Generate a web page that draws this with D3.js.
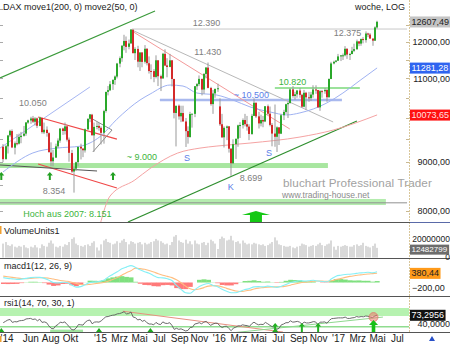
<!DOCTYPE html>
<html><head><meta charset="utf-8">
<script src="https://cdn.jsdelivr.net/npm/d3@7"></script>
<style>
html,body{margin:0;padding:0;background:#fff;}
svg{display:block;font-family:"Liberation Sans",Arial,sans-serif;}
</style></head><body>
<svg id="c" width="450" height="346"></svg>
<script>
// ---------------- DATA ----------------
const firstWeek = "2014-03-10";
// weekly [open, high, low, close]
const ohlc2014 = [
[9330,9390,8990,9056],[9060,9370,9040,9342],[9340,9600,9180,9587],[9590,9720,9550,9695],
[9690,9730,9300,9315],[9310,9450,9160,9409],[9410,9620,9360,9401],[9400,9630,9380,9556],
[9550,9670,9410,9581],[9580,9810,9560,9629],[9630,9900,9580,9893],[9890,9960,9860,9943],
[9940,10030,9860,9987],[9990,10050,9880,9912],[9910,10020,9820,9987],[9990,10010,9760,9815],[9810,10030,9800,10009],
[10000,10010,9630,9666],[9660,9890,9620,9720],[9720,9800,9560,9644],[9640,9660,9200,9210],
[9200,9430,8903,9009],[9010,9260,8900,9092],[9090,9400,9080,9339],[9340,9520,9300,9470],
[9470,9760,9420,9747],[9750,9770,9600,9691],[9690,9890,9610,9799],[9800,9820,9450,9490],[9490,9540,9000,9195],
[9190,9260,8760,8788],[8790,8900,8354,8850],[8850,9000,8800,8987],[8990,9330,8900,9327],
[9330,9400,9050,9291],[9290,9290,9100,9252],[9250,9750,9200,9732],[9730,9990,9720,9980],
[9980,10093,9900,10087],[10080,10100,9580,9594],[9590,9890,9219,9787],[9790,9900,9730,9810],[9810,9880,9700,9765]
];
const ohlc2015 = [
[9765,9800,9380,9648],[9650,10200,9400,10167],[10170,10650,10130,10649],[10650,10800,10560,10694],
[10690,10930,10670,10846],[10850,10970,10700,10963],[10960,11080,10830,11051],[11050,11420,11000,11402],
[11400,11600,11300,11551],[11550,11920,11450,11901],[11900,12220,11770,12040],[12040,12170,11700,11868],[11870,12080,11800,11967],
[11970,12390,11950,12375],[12370,12380,11950,11688],[11690,11860,11500,11811],[11810,11900,11300,11454],
[11450,11720,11200,11709],[11710,11720,11300,11447],[11450,11920,11400,11815],[11815,11830,11350,11413],
[11410,11600,11130,11197],[11200,11380,10980,11196],[11196,11250,10900,11040],[11040,11630,11000,11492],[11490,11500,10800,11058],
[11060,11100,10670,10996],[11000,11700,10990,11673],[11670,11800,11330,11347],[11350,11550,11030,11308],
[11310,11670,11300,11490],[11490,11500,10790,10985],[10985,10990,9990,10124],[10120,10300,9338,10298],[10300,10330,9960,10038],
[10040,10300,9900,10123],[10120,10300,9920,9916],[9916,10000,9325,9688],[9690,9800,9400,9554],
[9550,10150,9540,10096],[10090,10100,9770,10104],[10100,10800,10020,10795],[10795,10880,10700,10850],
[10850,11080,10800,10988],[10988,10990,10560,10708],[10710,11140,10600,11120],[11120,11300,11000,11293],[11290,11430,10740,10752],
[10750,10780,10300,10340],[10340,10700,10100,10608],[10610,10730,10500,10727],[10730,10860,10650,10743]
];
const ohlc2016 = [
[10283,10485,9810,9849],[9850,10100,9530,9545],[9545,9800,9314,9765],[9765,9820,9480,9798],
[9800,9810,9200,9286],[9286,9300,8699,8967],[8967,9500,8950,9388],[9388,9500,9060,9513],[9513,9840,9330,9824],
[9824,9900,9530,9831],[9831,9990,9750,9950],[9950,10100,9800,9851],[9851,10050,9700,9794],
[9794,9850,9480,9622],[9622,10100,9600,10051],[10051,10485,10050,10373],[10373,10380,10000,10039],
[10039,10150,9750,9870],[9870,10080,9800,9952],[9952,10050,9780,9916],[9916,10290,9900,10287],[10287,10330,10070,10103],
[10103,10280,9800,9834],[9834,9880,9340,9631],[9631,10330,9330,9557],[9557,9800,9214,9776],
[9776,9780,9370,9629],[9629,10100,9620,10066],[10066,10200,9950,10147],[10147,10350,10100,10337],
[10337,10400,10000,10367],[10367,10750,10350,10713],[10713,10800,10500,10544],[10544,10650,10450,10587],[10587,10700,10500,10684],
[10684,10750,10500,10573],[10573,10600,10250,10276],[10276,10700,10260,10626],[10626,10650,10200,10511],
[10511,10650,10400,10490],[10490,10650,10420,10580],[10580,10820,10500,10711],[10711,10820,10600,10696],[10696,10700,10250,10259],
[10259,10700,10174,10668],[10668,10700,10500,10665],[10665,10750,10600,10700],[10700,10720,10400,10513],
[10513,11000,10500,10986],[10986,11450,10980,11404],[11404,11480,11380,11449],[11449,11500,11430,11481]
];
const ohlc2017 = [
[11481,11670,11470,11599],[11599,11640,11470,11629],[11629,11680,11500,11630],[11630,11890,11600,11814],[11814,11830,11530,11651],
[11651,11700,11500,11666],[11666,11870,11660,11757],[11757,11960,11720,11804],[11804,12080,11780,12027],
[12027,12030,11890,11963],[11963,12110,11900,12095],[12095,12150,11970,12064],[12064,12320,11990,12257],
[12257,12280,12150,12225],[12225,12270,12100,12109],[12109,12110,11900,12048],[12048,12470,12040,12438],
[12438,12640,12400,12607.49]
];
// weekly volume, millions of units
const vol2014 = [18,20,16,15,17,14,13,15,14,16,13,12,14,13,16,13,12,17,15,14,19,22,18,14,13,15,14,17,16,20,24,26,18,16,15,14,16,17,15,19,21,13,9];
const vol2015 = [17,22,24,20,19,17,18,21,19,22,24,20,17,21,20,18,19,20,17,19,17,18,20,21,24,22,21,19,17,18,16,20,27,29,22,20,19,23,18,21,17,22,18,17,19,20,16,19,23,21,18,11];
const vol2016 = [24,27,25,22,23,28,22,20,21,18,22,19,17,18,17,19,18,17,16,17,15,16,18,20,26,22,17,16,15,14,14,15,13,12,14,15,18,17,16,14,15,16,15,17,19,16,15,17,18,22,14,10];
const vol2017 = [15,14,15,16,15,14,14,16,17,15,16,19,15,14,13,15,18,12.482799];
// weekly RSI(14)
const rsi2014 = [45,50,55,57,46,49,48,52,53,54,59,60,61,57,59,52,58,46,48,45,33,24,22,33,38,47,45,48,38,30,19,18,25,38,37,36,47,53,55,41,47,48,47];
const rsi2015 = [52,60,67,68,71,73,74,78,79,82,86,78,79,85,66,64,55,58,50,54,45,40,40,37,46,40,38,48,43,42,45,35,20,24,20,22,18,14,16,27,28,40,42,45,41,47,50,42,35,40,43,43];
const rsi2016 = [33,27,31,32,23,15,25,28,33,33,37,35,34,31,41,47,41,37,39,38,46,41,35,30,28,20,24,37,40,45,45,52,47,48,50,47,40,47,44,44,46,49,48,38,47,47,48,43,53,60,61,62];
const rsi2017 = [63,63,63,66,61,61,63,64,68,66,68,67,70,69,66,64,70,73.2956];
// MACD(12,26,9), every second week from firstWeek
const macdValues = [200,170,150,130,140,170,200,215,210,170,90,0,-20,10,0,-100,-190,-170,-90,0,20,40,
 90,220,330,440,560,630,690,620,520,440,380,280,200,190,150,80,-120,-280,-420,-440,-300,-160,-80,-40,-120,-170,
 -280,-360,-420,-420,-360,-290,-250,-180,-170,-180,-150,-170,-200,-150,-80,0,40,70,60,70,90,60,40,30,150,260,
 300,330,340,360,390,400,420,400,440];
const signalValues = [260,235,210,185,165,160,170,185,195,195,175,140,100,70,50,10,-40,-80,-95,-75,-50,-25,
 0,50,120,200,300,400,480,590,570,540,490,430,360,300,250,200,110,-10,-150,-260,-300,-270,-210,-150,-130,-140,
 -180,-240,-300,-350,-370,-350,-320,-270,-230,-210,-190,-180,-180,-175,-150,-110,-60,-20,10,30,50,60,55,45,70,120,
 160,210,250,280,305,330,350,365,380.44];
// moving averages [date, value]
const move2Line = [["2014-03-09",8779],["2014-06-09",9192],["2014-08-22",9300],["2014-11-01",9343],["2015-01-01",9560],
 ["2015-02-22",9970],["2015-05-04",10443],["2015-06-04",10594],["2015-08-04",10826],["2015-09-13",10800],["2015-10-26",10619],
 ["2015-12-26",10568],["2016-02-13",10443],["2016-04-06",10270],["2016-06-06",10147],["2016-07-28",10074],["2016-09-06",10123],
 ["2016-11-28",10370],["2017-01-16",10619],["2017-03-10",10950],["2017-05-01",11281.28]];
const move1Line = [["2015-01-01",7726],["2015-02-01",8286],["2015-04-18",8611],["2015-06-04",8854],["2015-08-27",9188],
 ["2015-11-04",9300],["2015-12-26",9346],["2016-04-06",9414],["2016-09-06",9551],["2016-12-17",9713],["2017-05-01",10073.65]];
// drawn analysis lines [date, price]
const greenUpperTrend = [["2014-02-28",11011],["2015-06-19",12940]];
const blueSupport2014 = [["2014-02-28",9301],["2014-12-01",10775]];
const redChannelTop = [["2014-06-25",10024],["2015-02-22",9505]];
const redChannelBottom = [["2014-06-25",8951],["2015-02-22",8447]];
const grayTriangle = [["2014-11-28",10024],["2015-02-07",9714],["2014-12-10",9213]];
const grayBaseLine = [["2014-02-28",8929],["2014-12-23",8801]];
const grayDownTrend = [["2015-04-09",12361],["2016-12-17",9904]];
const redDownTrend = [["2015-04-09",12331],["2016-08-06",9738]];
const greenUpTrend = [["2015-03-28",7783],["2017-02-28",9928]];
const resist12390 = [["2015-04-09",12390],["2017-08-01",12390]];
const line10500 = [["2015-07-04",10443],["2017-01-13",10443]];
const line10820 = [["2016-06-21",10749],["2017-03-09",10749]];
const line8151 = [["2014-02-28",8151],["2017-08-01",8151]];
const band9000 = ["2014-02-28","2016-12-01",8864,8971];
const band8151 = ["2014-02-28","2017-05-28",8108,8227];
const grayNotes = [["10.050","2014-06-09",10367],["8.354","2014-08-13",8386],["12.390","2015-11-24",12571],
 ["11.430","2015-11-28",11723],["12.375","2017-01-30",12272],["8.699","2016-04-09",8653]];
const greenNotes = [["~ 9.000","2015-05-10",9102],["10.820","2016-08-14",10906],["Hoch aus 2007: 8.151","2014-09-23",7934]];
const blueNotes = [["~ 10.500","2016-04-10",10568],["S","2015-09-25",9081],["S","2016-06-03",9191],["K","2016-02-07",8467]];
const smallArrows = [["2014-03-04",8779],["2014-07-31",8779],["2015-02-10",8779]];
const bigArrow = ["2016-04-24",7992];
const rsiRedTrend = [["2015-03-12",88],["2016-07-16",10]];
const rsiGreenTrend = [["2016-02-04",6],["2017-05-19",66]];
const rsiLowBand = ["2014-08-01","2014-11-10",8,19];
const rsiTriangles = ["2014-03-04","2014-12-29","2015-06-05","2016-06-22"];
const rsiSmallArrows = ["2016-06-22","2016-09-12","2016-11-01"];
const rsiBigArrow = ["2017-04-20",66];
const priceTicks = [8000,9000,11000,12000];
const volumeTicks = [0,20000000];
const macdTicks = [-200,400];
const rsiTicks = [40];
const monthTicks = ["2014-03-01","2014-06-01","2014-08-01","2014-10-01","2015-01-01","2015-03-01","2015-05-01","2015-07-01",
 "2015-09-01","2015-11-01","2016-01-01","2016-03-01","2016-05-01","2016-07-01","2016-09-01","2016-11-01","2017-01-01",
 "2017-03-01","2017-05-01","2017-07-01"];
const monthLabels = ["'14","Jun","Aug","Okt","'15","Mrz","Mai","Jul","Sep","Nov","'16","Mrz","Mai","Jul","Sep","Nov","'17","Mrz","Mai","Jul"];

// ---------------- CHART ----------------
const parse = d3.timeParse("%Y-%m-%d");
const svg = d3.select("#c");
const W = 409;
const P = {main:[0,222], vol:[223,258], macd:[259,296], rsi:[297,332]};
const t0 = parse(firstWeek);
const ohlc = [...ohlc2014,...ohlc2015,...ohlc2016,...ohlc2017];
const vols = [...vol2014,...vol2015,...vol2016,...vol2017];
const rsis = [...rsi2014,...rsi2015,...rsi2016,...rsi2017];
const bars = ohlc.map((r,i)=>({date:d3.timeDay.offset(t0,7*i),o:r[0],h:r[1],l:r[2],c:r[3],v:vols[i]*1e6,rsi:rsis[i]}));
const macdPts = macdValues.map((m,i)=>({date:d3.timeDay.offset(t0,14*i),m:m,s:signalValues[i]}));

const x = d3.scaleTime().domain([parse("2014-02-28"),parse("2017-08-07")]).range([0,W]);
const y = d3.scaleLog().domain([7783,13288]).range([P.main[1],P.main[0]]);
const yv = d3.scaleLinear().domain([0,43.9e6]).range([257.5,223.5]);
const ym = d3.scaleLinear().domain([-553.5,963.5]).range([296,259]);
const yr = d3.scaleLinear().domain([0,100]).range([334.7,308]);
const fmt2 = v=>d3.format(".2f")(v).replace(".",",");
const fmt4 = v=>d3.format(".4f")(v).replace(".",",");

const defs = svg.append("defs");
function clip(id,p){defs.append("clipPath").attr("id",id).append("rect").attr("x",0).attr("y",p[0]).attr("width",W).attr("height",p[1]-p[0]);return `url(#${id})`;}
const gMain = svg.append("g").attr("clip-path",clip("cm",P.main));
const gVol = svg.append("g").attr("clip-path",clip("cv",P.vol));
const gMacd = svg.append("g").attr("clip-path",clip("cmacd",P.macd));
const gRsi = svg.append("g").attr("clip-path",clip("cr",P.rsi));

const pline = d3.line().x(d=>x(parse(d[0]))).y(d=>y(d[1]));
function seg(g,pts,color,w){g.append("path").attr("d",pline(pts)).attr("fill","none").attr("stroke",color).attr("stroke-width",w);}
function band(g,b,color){g.append("rect").attr("x",x(parse(b[0]))).attr("width",x(parse(b[1]))-x(parse(b[0])))
  .attr("y",y(b[3])).attr("height",y(b[2])-y(b[3])).attr("fill",color);}

// watermark
svg.append("text").attr("x",283).attr("y",186.5).attr("font-size",11.7).attr("fill","#a2a2a2").attr("letter-spacing",0.1).text("bluchart Professional Trader");
svg.append("text").attr("x",282).attr("y",198).attr("font-size",8.6).attr("fill","#8c8c8c").text("www.trading-house.net");

// bands & lines
band(gMain,band9000,"#a8e6a0");
band(gMain,band8151,"#b4ecae");
seg(gMain,line8151,"#909090",1);
seg(gMain,resist12390,"#c8c8c8",1);
seg(gMain,line10500,"#a9b9ee",2.5);
seg(gMain,line10820,"#9be29b",2);
seg(gMain,greenUpperTrend,"#3a9a3a",1.2);
seg(gMain,greenUpTrend,"#2f8f2f",1.2);
seg(gMain,blueSupport2014,"#a6b6f2",1);
seg(gMain,redChannelTop,"#f04848",1.2);
seg(gMain,redChannelBottom,"#f04848",1.2);
seg(gMain,grayTriangle,"#8a8a8a",1);
seg(gMain,grayBaseLine,"#555",1);
seg(gMain,grayDownTrend,"#b8b8b8",1);
seg(gMain,redDownTrend,"#f49a9a",1);

// moving averages
const maLine = d3.line().x(d=>x(parse(d[0]))).y(d=>y(d[1])).curve(d3.curveMonotoneX);
gMain.append("path").attr("d",maLine(move2Line)).attr("fill","none").attr("stroke","#9fb2f2").attr("stroke-width",1);
gMain.append("path").attr("d",maLine(move1Line)).attr("fill","none").attr("stroke","#f5a3a3").attr("stroke-width",1);

// candles
const cx = d=>Math.round(x(d.date));
gMain.selectAll("rect.wick").data(bars).join("rect").attr("class","wick")
  .attr("x",d=>cx(d)-0.5).attr("width",1).attr("y",d=>y(d.h)).attr("height",d=>Math.max(1,y(d.l)-y(d.h))).attr("fill","#9a9a9a");
gMain.selectAll("rect.body").data(bars).join("rect").attr("class","body")
  .attr("x",d=>cx(d)-1).attr("width",2)
  .attr("y",d=>y(Math.max(d.o,d.c))).attr("height",d=>Math.max(1,Math.abs(y(d.o)-y(d.c))))
  .attr("fill",d=>d.c>=d.o?"#2aa82a":"#d42a2a");

// notes
function notes(arr,color){gMain.selectAll(null).data(arr).join("text").attr("x",d=>x(parse(d[1]))).attr("y",d=>y(d[2]))
  .attr("dy","0.35em").attr("text-anchor","middle").attr("font-size",9).attr("fill",color).text(d=>d[0]);}
notes(grayNotes,"#808080");notes(greenNotes,"#3cb43c");notes(blueNotes,"#5a7ee8");

// arrows
gMain.selectAll(null).data(smallArrows).join("path")
  .attr("transform",d=>`translate(${x(parse(d[0]))},${y(d[1])})`)
  .attr("d","M0,0 L3,3.5 L1,3.5 L1,8 L-1,8 L-1,3.5 L-3,3.5 Z").attr("fill","#22a022");
gMain.append("path").attr("transform",`translate(${x(parse(bigArrow[0]))},${y(bigArrow[1])})`)
  .attr("d","M0,0 L14,4 L6,4 L6,12 L-6,12 L-6,4 L-14,4 Z").attr("fill","#14c814");

// volume
gVol.selectAll("rect").data(bars).join("rect").attr("x",d=>cx(d)-0.5).attr("width",1)
  .attr("y",d=>yv(d.v)).attr("height",d=>yv(0)-yv(d.v)).attr("fill","#b4b4b4");

// macd
const bw = x(d3.timeDay.offset(t0,14))-x(t0);
gMacd.selectAll("rect").data(macdPts).join("rect")
  .attr("x",d=>x(d.date)-bw/2).attr("width",bw+0.3)
  .attr("y",d=>ym(Math.max(0,d.m-d.s))).attr("height",d=>Math.abs(ym(d.m-d.s)-ym(0)))
  .attr("fill",d=>d.m>=d.s?"#7fe07f":"#ff7a7a");
const ml = d3.line().x(d=>x(d.date)).curve(d3.curveMonotoneX);
gMacd.append("path").attr("d",ml.y(d=>ym(d.s))(macdPts)).attr("fill","none").attr("stroke","#ffbe80").attr("stroke-width",1.1);
gMacd.append("path").attr("d",ml.y(d=>ym(d.m))(macdPts)).attr("fill","none").attr("stroke","#86f0f6").attr("stroke-width",1.1);

// rsi
gRsi.append("rect").attr("x",0).attr("width",W).attr("y",yr(100)).attr("height",yr(70)-yr(100)).attr("fill","#b6f2b0");
gRsi.append("rect").attr("x",x(parse(rsiLowBand[0]))).attr("width",x(parse(rsiLowBand[1]))-x(parse(rsiLowBand[0])))
  .attr("y",yr(rsiLowBand[3])).attr("height",yr(rsiLowBand[2])-yr(rsiLowBand[3])).attr("fill","#9fe49f");
gRsi.append("line").attr("x1",0).attr("x2",W).attr("y1",yr(30)).attr("y2",yr(30)).attr("stroke","#8fdc8f").attr("stroke-width",1.4);
const rl = d3.line().x(d=>x(parse(d[0]))).y(d=>yr(d[1]));
gRsi.append("path").attr("d",rl(rsiRedTrend)).attr("stroke","#e89080").attr("fill","none");
gRsi.append("path").attr("d",rl(rsiGreenTrend)).attr("stroke","#8fd88f").attr("fill","none");
gRsi.append("path").attr("d",d3.line().x(d=>x(d.date)).y(d=>yr(d.rsi))(bars)).attr("fill","none").attr("stroke","#5a5a5a").attr("stroke-width",0.9);
gRsi.selectAll(null).data(rsiTriangles).join("path").attr("transform",d=>`translate(${x(parse(d))},${P.rsi[1]})`)
  .attr("d","M0,-4 L3,0 L-3,0 Z").attr("fill","#1fa81f");
gRsi.selectAll(null).data(rsiSmallArrows).join("path").attr("transform",d=>`translate(${x(parse(d))},${P.rsi[1]})`)
  .attr("d","M0,-9 L3,-5.5 L1,-5.5 L1,0 L-1,0 L-1,-5.5 L-3,-5.5 Z").attr("fill","#22b022");
gRsi.append("circle").attr("cx",x(parse(rsiBigArrow[0]))).attr("cy",yr(rsiBigArrow[1])).attr("r",4.5)
  .attr("fill","rgba(240,120,110,0.55)").attr("stroke","#e07a70").attr("stroke-width",0.8);
gRsi.append("path").attr("transform",`translate(${x(parse(rsiBigArrow[0]))},${P.rsi[1]})`)
  .attr("d","M0,-12 L4.5,-7 L1.8,-7 L1.8,0 L-1.8,0 L-1.8,-7 L-4.5,-7 Z").attr("fill","#18c018");

// frames
svg.append("line").attr("x1",W+0.5).attr("x2",W+0.5).attr("y1",0).attr("y2",P.rsi[1]).attr("stroke","#d9c79a").attr("stroke-dasharray","2,1");
[P.main[1],P.vol[1],P.macd[1],P.rsi[1]].forEach(v=>{
  svg.append("line").attr("x1",0).attr("x2",450).attr("y1",v+0.5).attr("y2",v+0.5).attr("stroke","#555").attr("stroke-width",1);
});
svg.append("line").attr("x1",W+1).attr("x2",450).attr("y1",P.main[1]+0.5).attr("y2",P.main[1]+0.5).attr("stroke","#5a6aa8").attr("stroke-width",1.2);

// minor ticks main
const minor = d3.range(8000,13001,500);
svg.selectAll(null).data(minor).join("line").attr("x1",0).attr("x2",3).attr("y1",d=>Math.round(y(d))+0.5).attr("y2",d=>Math.round(y(d))+0.5).attr("stroke","#aaa");
svg.selectAll(null).data(minor.filter(v=>v<=12500)).join("line").attr("x1",W-3).attr("x2",W).attr("y1",d=>Math.round(y(d))+0.5).attr("y2",d=>Math.round(y(d))+0.5).attr("stroke","#c8b890");

// titles
svg.append("text").attr("x",3).attr("y",10).attr("font-size",9).attr("fill","#222").text("DAX move1(200, 0) move2(50, 0)");
svg.append("text").attr("x",405).attr("y",10).attr("text-anchor","end").attr("font-size",9).attr("fill","#222").text("woche, LOG");
svg.append("rect").attr("x",0).attr("y",226).attr("width",1.5).attr("height",8).attr("fill","#f0a030");
svg.append("text").attr("x",4).attr("y",233.5).attr("font-size",9).attr("fill","#222").text("VolumeUnits1");
svg.append("text").attr("x",4).attr("y",269).attr("font-size",9).attr("fill","#222").text("macd1(12, 26, 9)");
svg.append("text").attr("x",4).attr("y",306).attr("font-size",9).attr("fill","#222").text("rsi1(14, 70, 30, 1)");

// right axes
const ax = svg.append("g").attr("font-size",9).attr("fill","#222");
ax.selectAll(null).data(priceTicks).join("text").attr("x",450).attr("y",d=>y(d)).attr("dy","0.35em").attr("text-anchor","end").text(fmt2);
ax.selectAll(null).data(volumeTicks).join("text").attr("x",450).attr("y",d=>d===0?yv(d):yv(d)-3).attr("dy","0.3em").attr("text-anchor","end").attr("font-size",8.5).text(d=>d3.format("d")(d));
ax.selectAll(null).data(macdTicks).join("text").attr("x",412).attr("y",d=>ym(d)).attr("dy","0.35em").text(fmt2);
ax.selectAll(null).data(rsiTicks).join("text").attr("x",450).attr("y",d=>yr(d)).attr("dy","0.35em").attr("text-anchor","end").text(fmt4);

function valueBox(yy,txt,bg,fg,fs){
  const g=svg.append("g");
  const t=g.append("text").attr("x",411.5).attr("y",yy).attr("dy","0.35em").attr("font-size",fs||9).attr("fill",fg).text(txt);
  const bb=t.node().getBBox();
  g.insert("rect","text").attr("x",410).attr("y",bb.y-0.5).attr("width",bb.width+3).attr("height",bb.height+1).attr("fill",bg);
}
const last = bars[bars.length-1];
valueBox(y(last.c),fmt2(last.c),"#c4c4c4","#222");
valueBox(y(move2Line[move2Line.length-1][1]),fmt2(move2Line[move2Line.length-1][1]),"#2f64f0","#fff");
valueBox(y(move1Line[move1Line.length-1][1]),fmt2(move1Line[move1Line.length-1][1]),"#ff1010","#ffe0e0");
valueBox(yv(last.v)+1.5,d3.format("d")(Math.round(last.v)),"#6c6c6c","#fff",8);
valueBox(ym(macdPts[macdPts.length-1].s),fmt2(macdPts[macdPts.length-1].s),"#ff9a1a","#222");
valueBox(yr(last.rsi),fmt4(last.rsi),"#111","#fff");

// x axis
const xa = d3.axisBottom(x).tickValues(monthTicks.map(parse)).tickSize(0).tickPadding(0)
  .tickFormat((d,i)=>monthLabels[i]);
const gx = svg.append("g").attr("transform",`translate(0,${P.rsi[1]+3})`).call(xa);
gx.select(".domain").remove();
gx.selectAll("text").attr("font-size",10).attr("fill","#222").attr("font-family","Liberation Sans, Arial, sans-serif").attr("dy","0.71em");
gx.selectAll("text").filter((d,i)=>i===0).attr("text-anchor","start").attr("dx",-0.3);
svg.append("rect").attr("x",0).attr("y",336).attr("width",1.5).attr("height",6).attr("fill","#f0a030");
svg.append("path").attr("d","M432,336 L435,341 L429,341 Z").attr("fill","#2850c8");
</script>
</body></html>
